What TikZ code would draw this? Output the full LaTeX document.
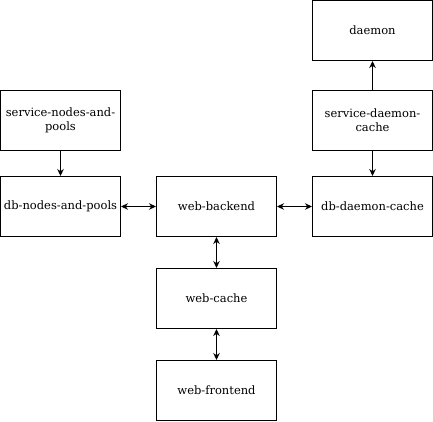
\documentclass[tikz,border=0pt]{standalone}
\usepackage{fontspec}
\setmainfont{DejaVu Serif}
\usetikzlibrary{arrows.meta}
\begin{document}
\begin{tikzpicture}[x=1pt,y=1pt,
  box/.style={draw,line width=1pt,minimum width=120pt,minimum height=60pt,inner sep=0pt,align=center,font=\fontsize{11.5}{14}\selectfont},
  conn/.style={line width=1pt,-{Stealth[length=7pt,width=6.5pt]}},
  biconn/.style={line width=1pt,{Stealth[length=7pt,width=6.5pt]}-{Stealth[length=7pt,width=6.5pt]}}]
\useasboundingbox (0,0) rectangle (433,-421);
\node[box] (daemon) at (372.5,-30.5) {daemon};
\node[box] (sdc) at (372.5,-120.5) {service-daemon-\\cache};
\node[box] (ddc) at (372.5,-206.5) {db-daemon-cache};
\node[box] (snp) at (60.5,-120.5) {service-nodes-and-\\pools};
\node[box] (dnp) at (60.5,-206.5) {db-nodes-and-pools};
\node[box] (wb) at (216.5,-206.5) {web-backend};
\node[box] (wc) at (216.5,-298.5) {web-cache};
\node[box] (wf) at (216.5,-390.5) {web-frontend};
\draw[conn] (snp) -- (dnp);
\draw[conn] (sdc) -- (daemon);
\draw[conn] (sdc) -- (ddc);
\draw[biconn] (dnp) -- (wb);
\draw[biconn] (wb) -- (ddc);
\draw[biconn] (wb) -- (wc);
\draw[biconn] (wc) -- (wf);
\end{tikzpicture}
\end{document}
